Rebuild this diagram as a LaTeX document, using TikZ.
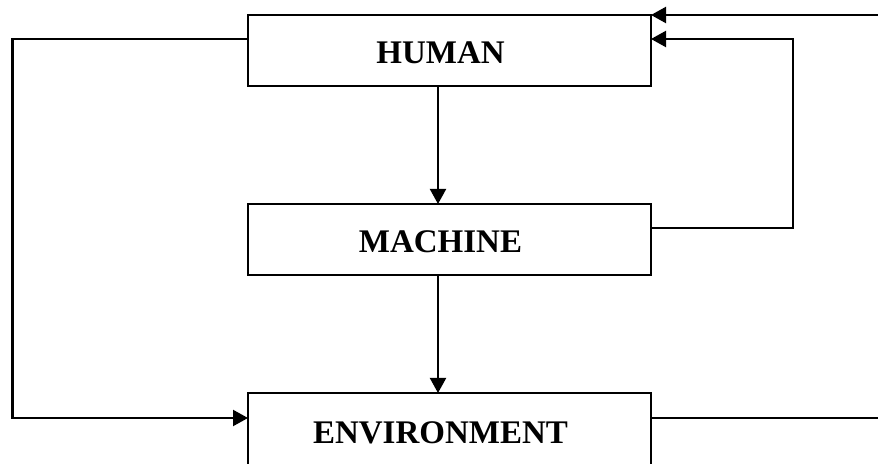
\documentclass[tikz,border=0pt]{standalone}
\usepackage{fontspec}
\setmainfont{Liberation Serif}
\usetikzlibrary{arrows.meta}

\tikzset{
    block/.style={draw, line width=1.3pt, inner sep=0pt, outer sep=0pt,
        minimum width=201.5pt, minimum height=35.5pt},
    blocklabel/.style={font=\fontsize{16.5pt}{20pt}\selectfont\bfseries,
        xshift=-4.5pt, yshift=-1.2pt},
    link/.style={line width=1.1pt},
    flow/.style={link, -{Triangle[length=7.5pt,width=8pt]}}
}

\begin{document}
\begin{tikzpicture}[x=0.5pt, y=-0.5pt]
    % --- 定义坐标和参数 ---
    \def\boxX{449.5}     % 三个方框的中心横坐标
    \def\leftX{12.5}     % 左侧回路的竖线
    \def\rightX{793}     % 右侧回路的竖线
    \def\outX{890}       % 伸出画面的线段终点
    \useasboundingbox (0,0) rectangle (878,464);

    % 竖直箭头所在的列, 以及两条回路的高度
    \coordinate (axis) at (438,0);
    \coordinate (upper) at (0,39);
    \coordinate (lower) at (0,418);
    \coordinate (mid) at (0,228);

    % --- 绘制三个方框 ---
    \node[block, label={[blocklabel]center:HUMAN}] (human) at (\boxX,50.5) {};
    \node[block, label={[blocklabel]center:MACHINE}] (machine) at (\boxX,239.5) {};
    % 最下面的方框底边落在画面之外
    \node[block, minimum height=38pt,
        label={[blocklabel, yshift=0.2pt]center:ENVIRONMENT}] (env) at (\boxX,431) {};

    % --- 纵向箭头 ---
    \draw[flow, line width=1pt] (human.south -| axis) -- (machine.north -| axis);
    \draw[flow, line width=1pt] (machine.south -| axis) -- (env.north -| axis);

    % --- 左侧回路: HUMAN -> ENVIRONMENT ---
    \draw[flow] (human.west |- upper) -- (\leftX,39) |- (env.west |- lower);

    % --- 右侧回路: MACHINE -> HUMAN ---
    \draw[flow] (machine.east |- mid) -| (\rightX,39) -- (human.east |- upper);

    % --- 伸出画面的两条线 ---
    \draw[link] (env.east |- lower) -- (\outX,418);
    \draw[flow] (\outX,15) -- (human.north east);

\end{tikzpicture}
\end{document}
